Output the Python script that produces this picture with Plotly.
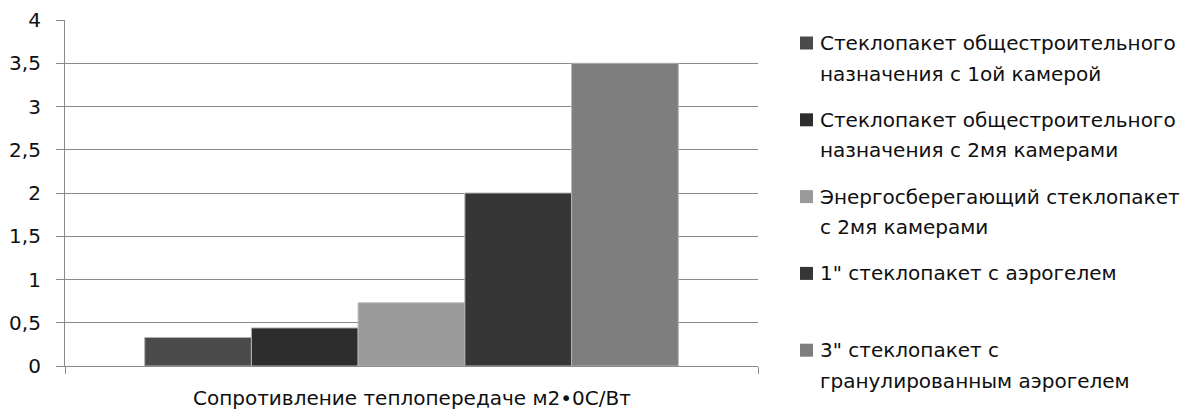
import plotly.graph_objects as go

# Heat-transfer resistance of glazing units, m2·°C/W
series_names = [
    "Стеклопакет общестроительного<br>назначения с 1ой камерой",
    "Стеклопакет общестроительного<br>назначения с 2мя камерами",
    "Энергосберегающий стеклопакет<br>с 2мя камерами",
    "1\" стеклопакет с аэрогелем",
    "3\" стеклопакет с<br>гранулированным аэрогелем",
]
values = [0.33, 0.44, 0.73, 2.0, 3.5]
colors = ["#4a4a4a", "#2d2d2d", "#9a9a9a", "#363636", "#7e7e7e"]
y_ticks = [0, 0.5, 1, 1.5, 2, 2.5, 3, 3.5, 4]
axis_title = "Сопротивление теплопередаче м2•0С/Вт"

W, H = 1188, 414
L, R, T, B = 65, 758, 20, 366  # plot area in pixels
FONT = "DejaVu Sans"
FSIZE = 20
TEXT_COLOR = "#0f0f0f"
GRID = "#8a8a8a"


def px_x(p):
    return (p - L) / (R - L)


def px_y(p):
    return (B - p) / (B - T)


fig = go.Figure()
for name, v, c in zip(series_names, values, colors):
    fig.add_trace(go.Bar(
        x=[0], y=[v], name=name.replace("<br>", " "),
        marker=dict(color=c, line=dict(color="#b4b4b4", width=1)),
        showlegend=False,
    ))

# Legend drawn as squares and text lines to the right of the plot
shapes = []
annotations = []
item_top = 43.0
item_step = 76.8
line_step = 30.5
for i, (name, c) in enumerate(zip(series_names, colors)):
    cy = item_top + i * item_step
    shapes.append(dict(
        type="rect", xref="paper", yref="paper",
        x0=px_x(800), x1=px_x(813), y0=px_y(cy + 6.5), y1=px_y(cy - 6.5),
        fillcolor=c, line=dict(width=0),
    ))
    for j, line in enumerate(name.split("<br>")):
        annotations.append(dict(
            xref="paper", yref="paper", x=px_x(818), y=px_y(cy + j * line_step),
            xanchor="left", yanchor="middle", showarrow=False,
            text=line, font=dict(family=FONT, size=FSIZE, color=TEXT_COLOR),
        ))

annotations.append(dict(
    xref="paper", yref="paper", x=0.5, y=px_y(398),
    xanchor="center", yanchor="middle", showarrow=False,
    text=axis_title, font=dict(family=FONT, size=FSIZE, color=TEXT_COLOR),
))

fig.update_layout(
    width=W, height=H,
    margin=dict(l=L, r=W - R, t=T, b=H - B, pad=0, autoexpand=False),
    paper_bgcolor="white", plot_bgcolor="white",
    barmode="group", bargap=0.23, bargroupgap=0,
    separators=", ",
    font=dict(family=FONT, size=FSIZE, color=TEXT_COLOR),
    shapes=shapes, annotations=annotations,
    showlegend=False,
)
fig.update_xaxes(
    range=[-0.5, 0.5], tickvals=[-0.5, 0.5], ticktext=["", ""],
    ticks="outside", ticklen=7, tickcolor=GRID, tickwidth=1.2,
    showline=True, linecolor=GRID, linewidth=1.2,
    showgrid=False, zeroline=False, automargin=False,
)
fig.update_yaxes(
    range=[0, 4], tickvals=y_ticks,
    ticks="outside", ticklen=8, tickcolor=GRID, tickwidth=1.2,
    showline=True, linecolor=GRID, linewidth=1.2,
    showgrid=True, gridcolor=GRID, gridwidth=1.2,
    zeroline=False, ticklabelstandoff=11, automargin=False,
    tickfont=dict(family=FONT, size=FSIZE, color=TEXT_COLOR),
)

fig.write_html("out.html")
